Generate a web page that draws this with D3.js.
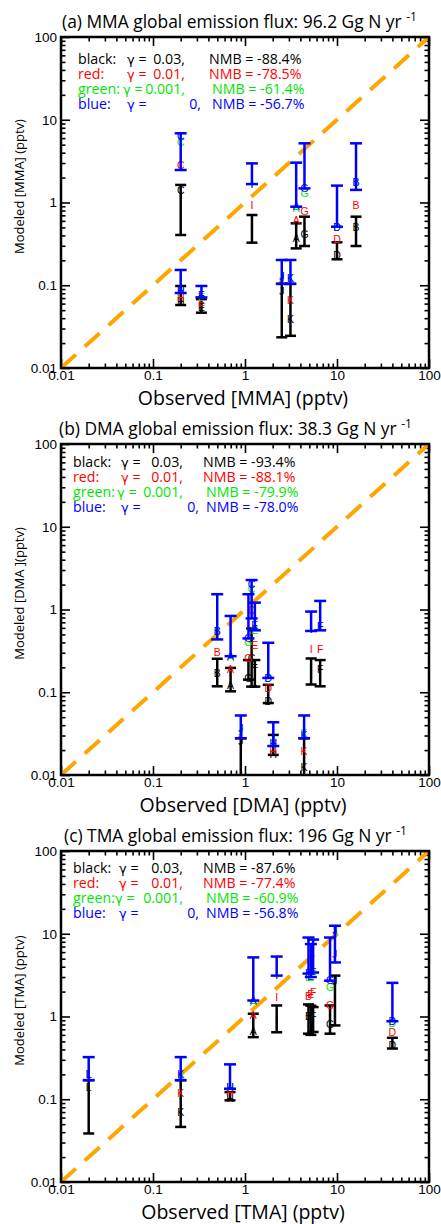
<!DOCTYPE html>
<html>
<head>
<meta charset="utf-8">
<script src="https://cdn.jsdelivr.net/npm/d3@7"></script>
<style>
  body { margin: 0; background: #fff; }
  svg { display: block; font-family: "Open Sans", Lato, sans-serif; }
  .axis text { font-size: 13.5px; fill: #000; }
  .axis line { stroke: #000; stroke-width: 1.6px; }
  .site { font-family: "Liberation Sans", Arial, sans-serif; font-size: 10.5px; }
  .gamma { font-family: "DejaVu Sans", sans-serif; font-size: 13px; }
</style>
</head>
<body>
<div id="chart"></div>
<script>
// ---- data ----
var gammas = ["0.03", "0.01", "0.001", "0"];
var legendNames = ["black:", "red:", "green:", "blue:"];
var legendColors = ["#000000", "#ff0000", "#00e600", "#0000ff"];

// (a) MMA
var mmaSites   = ["A", "B", "C", "D", "E", "G", "H", "I", "J", "K"];
var mmaObs     = [3.6, 16.1, 0.2, 10, 0.336, 4.43, 0.2, 1.19, 2.51, 3.12];
var mmaBlackLo = [0.279, 0.298, 0.405, 0.206, 0.0466, 0.298, 0.0577, 0.327, 0.0235, 0.0245];
var mmaBlackHi = [0.56, 0.674, 1.63, 0.33, 0.068, 0.674, 0.098, 0.706, 0.104, 0.104];
var mmaBlack   = [0.37, 0.5, 1.39, 0.232, 0.055, 0.416, 0.0636, 0.48, 0.084, 0.0389];
var mmaRed     = [0.615, 0.93, 2.84, 0.362, 0.063, 0.774, 0.0723, 0.933, 0.118, 0.0652];
var mmaGreen   = [0.86, 1.74, 5.28, 0.5, 0.072, 1.29, 0.085, 1.67, 0.125, 0.1226];
var mmaBlueLo  = [0.89, 1.42, 2.47, 0.51, 0.0714, 1.48, 0.0806, 1.67, 0.104, 0.104];
var mmaBlueHi  = [3.03, 5.19, 6.86, 1.6, 0.098, 5.19, 0.153, 2.97, 0.202, 0.202];
var mmaBlue    = [0.89, 1.74, 6.24, 0.5, 0.0762, 1.48, 0.0868, 1.67, 0.127, 0.12];
var mmaNMB     = ["-88.4%", "-78.5%", "-61.4%", "-56.7%"];

// (b) DMA
var dmaSites   = ["A", "B", "C", "D", "E", "F", "G", "H", "I", "J", "K"];
var dmaObs     = [0.697, 0.499, 1.18, 1.79, 1.28, 6.56, 1.09, 2.03, 5.23, 0.9, 4.39];
var dmaBlackLo = [0.1026, 0.118, 0.117, 0.074, 0.117, 0.118, 0.142, 0.0175, 0.124, 0.005, 0.005];
var dmaBlackHi = [0.197, 0.254, 0.59, 0.123, 0.245, 0.245, 0.245, 0.0305, 0.256, 0.0278, 0.0278];
var dmaBlack   = [0.121, 0.171, 0.26, 0.078, 0.217, 0.188, 0.146, 0.018, 0.18, 0.0255, 0.01225];
var dmaRed     = [0.191, 0.305, 0.98, 0.1125, 0.368, 0.335, 0.256, 0.0192, 0.335, 0.0312, 0.0192];
var dmaGreen   = [0.265, 0.55, 1.77, 0.149, 0.56, 0.62, 0.4, 0.024, 0.58, 0.033, 0.0318];
var dmaBlueLo  = [0.273, 0.435, 0.78, 0.149, 0.56, 0.56, 0.447, 0.0224, 0.55, 0.0278, 0.0278];
var dmaBlueHi  = [0.836, 1.53, 2.27, 0.396, 1.21, 1.27, 1.53, 0.0434, 0.944, 0.0524, 0.0524];
var dmaBlue    = [0.273, 0.55, 2.0, 0.149, 0.65, 0.62, 0.447, 0.0241, 0.58, 0.0367, 0.03];
var dmaNMB     = ["-93.4%", "-88.1%", "-79.9%", "-78.0%"];

// (c) TMA
var tmaSites   = ["A", "B", "D", "E", "F", "G", "H", "I", "J", "K", "L"];
var tmaObs     = [1.23, 4.9, 40, 5.2, 5.5, 8.4, 0.687, 2.21, 9.5, 0.2, 0.02];
var tmaBlackLo = [0.563, 0.62, 0.41, 0.6, 0.65, 0.62, 0.097, 0.645, 0.78, 0.0463, 0.0386];
var tmaBlackHi = [1.08, 1.4, 0.553, 1.35, 1.3, 1.36, 0.122, 1.36, 3.12, 0.17, 0.17];
var tmaBlack   = [0.66, 1.0, 0.45, 1.0, 1.0, 0.8, 0.104, 0.9, 2.7, 0.0703, 0.14];
var tmaRed     = [1.05, 1.78, 0.645, 1.85, 1.96, 1.36, 0.12, 1.71, 5.6, 0.117, 0.2];
var tmaGreen   = [1.5, 3.0, 0.84, 3.0, 3.2, 2.23, 0.14, 3.12, 10, 0.19, 0.2];
var tmaBlueLo  = [1.56, 3.3, 0.877, 3.0, 3.4, 2.71, 0.134, 3.12, 4.5, 0.17, 0.17];
var tmaBlueHi  = [5.18, 9.0, 2.55, 7.5, 8.5, 9.0, 0.264, 5.3, 12.5, 0.323, 0.323];
var tmaBlue    = [1.56, 3.3, 0.88, 3.1, 3.4, 2.71, 0.14, 3.12, 10.9, 0.2, 0.2];
var tmaNMB     = ["-87.6%", "-77.4%", "-60.9%", "-56.8%"];

var majorTicks = [0.01, 0.1, 1, 10, 100];
var tickLabels = ["0.01", "0.1", "1", "10", "100"];

// ---- layout ----
var width = 441, height = 1224;
var plotLeft = 61, plotW = 368, plotH = 331;

var panels = [
  { top: 37, tag: "(a)", species: "MMA", flux: "96.2", titleX: 62, legendX: 78, legendY: 22, legendOffsets: [49, 107, 131],
    yLabel: "Modeled [MMA] (pptv)",
    sites: mmaSites, obs: mmaObs, blackLo: mmaBlackLo, blackHi: mmaBlackHi, black: mmaBlack, red: mmaRed,
    green: mmaGreen, blueLo: mmaBlueLo, blueHi: mmaBlueHi, blue: mmaBlue, nmb: mmaNMB },
  { top: 444, tag: "(b)", species: "DMA", flux: " 38.3", titleX: 59, legendX: 73, legendY: 18, legendOffsets: [48, 110, 130],
    yLabel: "Modeled [DMA ](pptv)",
    sites: dmaSites, obs: dmaObs, blackLo: dmaBlackLo, blackHi: dmaBlackHi, black: dmaBlack, red: dmaRed,
    green: dmaGreen, blueLo: dmaBlueLo, blueHi: dmaBlueHi, blue: dmaBlue, nmb: dmaNMB },
  { top: 851, tag: "(c)", species: "TMA", flux: "196", titleX: 64, legendX: 73, legendY: 17, legendOffsets: [46, 110, 130],
    yLabel: "Modeled [TMA] (pptv)",
    sites: tmaSites, obs: tmaObs, blackLo: tmaBlackLo, blackHi: tmaBlackHi, black: tmaBlack, red: tmaRed,
    green: tmaGreen, blueLo: tmaBlueLo, blueHi: tmaBlueHi, blue: tmaBlue, nmb: tmaNMB }
];

var svg = d3.select("#chart")
  .append("svg")
  .attr("width", width)
  .attr("height", height);

var minorTicks = [];
[0.01, 0.1, 1, 10].forEach(function(d) {
  for (var k = 2; k <= 9; k++) minorTicks.push(d * k);
});

var renderPanel = function(p, idx) {
  var bottom = p.top + plotH;

  var xScale = d3.scaleLog().domain([0.01, 100]).range([plotLeft, plotLeft + plotW]);
  var yScale = d3.scaleLog().domain([0.01, 100]).range([bottom, p.top]);

  var g = svg.append("g").attr("class", "panel");

  // Clip
  var clipId = "clip-" + idx;
  svg.append("clipPath").attr("id", clipId)
    .append("rect")
    .attr("x", plotLeft).attr("y", p.top)
    .attr("width", plotW).attr("height", plotH);

  var fmt = function(d) { return tickLabels[majorTicks.indexOf(d)]; };

  // Axes (ticks point inward on all four sides)
  var axes = [
    { axis: d3.axisBottom(xScale), t: "translate(0," + bottom + ")", labels: true, pad: 2 },
    { axis: d3.axisTop(xScale), t: "translate(0," + p.top + ")", labels: false, pad: 4 },
    { axis: d3.axisLeft(yScale), t: "translate(" + plotLeft + ",0)", labels: true, pad: 4 },
    { axis: d3.axisRight(yScale), t: "translate(" + (plotLeft + plotW) + ",0)", labels: false, pad: 4 }
  ];

  axes.forEach(function(a) {
    g.append("g")
      .attr("class", "axis")
      .attr("transform", a.t)
      .call(a.axis.tickValues(majorTicks).tickSize(-9).tickPadding(a.pad)
        .tickFormat(a.labels ? fmt : ""))
      .call(function(s) { s.select(".domain").remove(); });

    g.append("g")
      .attr("class", "axis minor")
      .attr("transform", a.t)
      .call(a.axis.tickValues(minorTicks).tickSize(-4.5).tickFormat(""))
      .call(function(s) { s.select(".domain").remove(); });
  });

  // 1:1 line
  g.append("line")
    .attr("clip-path", "url(#" + clipId + ")")
    .attr("x1", xScale(0.01)).attr("y1", yScale(0.01))
    .attr("x2", xScale(100)).attr("y2", yScale(100))
    .attr("stroke", "#ffa500")
    .attr("stroke-width", 4)
    .attr("stroke-dasharray", "20,12");

  var data = p.sites.map(function(s, i) {
    return {
      site: s, obs: p.obs[i],
      blackLo: p.blackLo[i], blackHi: p.blackHi[i], black: p.black[i],
      red: p.red[i], green: p.green[i],
      blueLo: p.blueLo[i], blueHi: p.blueHi[i], blue: p.blue[i]
    };
  });

  var marks = g.append("g").attr("clip-path", "url(#" + clipId + ")");

  var drawBars = function(cls, color, lo, hi, capHalf) {
    var bars = marks.append("g").attr("class", cls)
      .selectAll("g").data(data).enter().append("g")
      .attr("stroke", color).attr("stroke-width", 2.5);

    bars.append("line")
      .attr("x1", d => xScale(d.obs)).attr("x2", d => xScale(d.obs))
      .attr("y1", d => yScale(d[lo])).attr("y2", d => yScale(d[hi]));

    [lo, hi].forEach(function(key) {
      bars.append("line")
        .attr("x1", d => xScale(d.obs) - capHalf).attr("x2", d => xScale(d.obs) + capHalf)
        .attr("y1", d => yScale(d[key])).attr("y2", d => yScale(d[key]));
    });
  };

  var drawLetters = function(cls, color, key) {
    marks.append("g").attr("class", cls + " site")
      .selectAll("text").data(data).enter().append("text")
      .attr("x", d => xScale(d.obs))
      .attr("y", d => yScale(d[key]))
      .attr("dy", "0.36em")
      .attr("text-anchor", "middle")
      .attr("fill", color)
      .text(d => d.site);
  };

  drawBars("black-bars", "#000", "blackLo", "blackHi", 5.5);
  drawLetters("black-letters", "#000", "black");
  drawLetters("red-letters", "#ff0000", "red");
  drawLetters("green-letters", "#00e600", "green");
  drawBars("blue-bars", "#0000ff", "blueLo", "blueHi", 6);
  drawLetters("blue-letters", "#0000ff", "blue");

  // Frame
  g.append("rect")
    .attr("x", plotLeft).attr("y", p.top)
    .attr("width", plotW).attr("height", plotH)
    .attr("fill", "none").attr("stroke", "#000").attr("stroke-width", 2.5);

  // Title
  var title = g.append("text")
    .attr("x", p.titleX).attr("y", p.top - 9)
    .attr("font-size", "17.4px")
    .text(p.tag + " " + p.species + " global emission flux: " + p.flux + " Gg N yr ");
  title.append("tspan")
    .attr("dy", -7).attr("font-size", "12px")
    .text("-1");

  // Axis labels
  g.append("text")
    .attr("x", plotLeft + plotW / 2 - 2).attr("y", bottom + 37)
    .attr("text-anchor", "middle")
    .attr("font-size", "19.5px")
    .text("Observed [" + p.species + "] (pptv)");

  g.append("text")
    .attr("transform", "translate(24," + (p.top + plotH / 2 - 16) + ") rotate(-90)")
    .attr("text-anchor", "middle")
    .attr("font-size", "13px")
    .text(p.yLabel);

  // Legend
  var leg = g.append("g").attr("class", "legend").attr("font-size", "14.2px");
  legendNames.forEach(function(name, i) {
    var ly = p.top + p.legendY + i * 15 + 5;
    var row = leg.append("g").attr("fill", legendColors[i]);
    row.append("text").attr("x", p.legendX).attr("y", ly).text(name);
    // green row: "γ = 0.001," runs a little further left
    var gt = row.append("text")
      .attr("x", p.legendX + p.legendOffsets[0] - (i == 2 ? 4 : 0)).attr("y", ly);
    gt.append("tspan").attr("class", "gamma").text("\u03b3");
    gt.append("tspan").text(" =");
    row.append("text").attr("x", p.legendX + p.legendOffsets[1] + (i == 3 ? 16 : 0)).attr("y", ly)
      .attr("text-anchor", "end").text(gammas[i] + ",");
    row.append("text").attr("x", p.legendX + p.legendOffsets[2] + (i >= 2 ? 3 : 0)).attr("y", ly)
      .text("NMB = " + p.nmb[i]);
  });
};

panels.forEach(renderPanel);
</script>
</body>
</html>
